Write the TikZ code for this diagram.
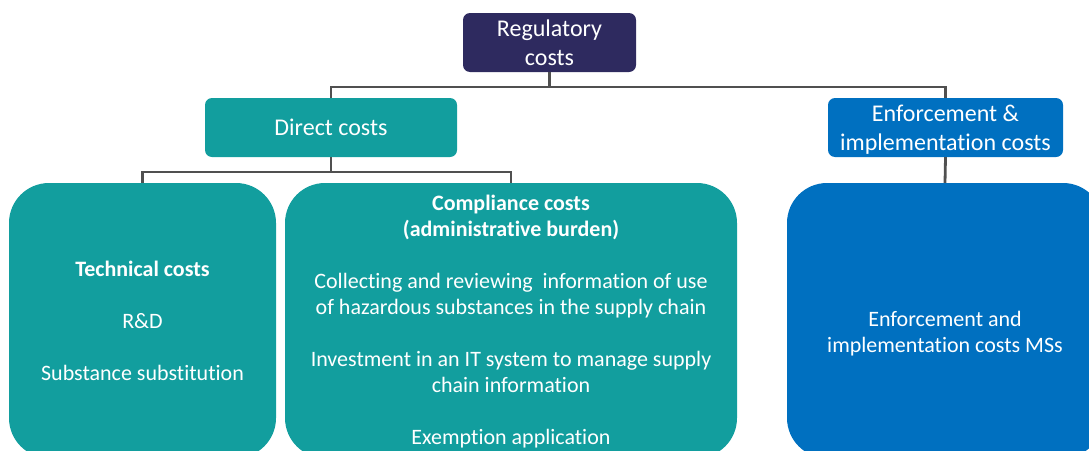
\documentclass[tikz,border=0pt]{standalone}
\usepackage{fontspec}
\setmainfont[Ligatures=NoCommon]{Carlito}
\definecolor{navybox}{HTML}{2E2A5F}
\definecolor{tealbox}{HTML}{129E9E}
\definecolor{bluebox}{HTML}{0070C0}
\definecolor{linegray}{HTML}{505050}
\begin{document}
\begin{tikzpicture}[x=1pt,y=-1pt,
  hdr/.style={rounded corners=7pt, inner sep=0pt, text=white, align=center, font=\fontsize{24}{29}\selectfont},
  big/.style={rounded corners=40pt, inner sep=0pt},
  body/.style={text=white, align=center, font=\fontsize{22}{26}\selectfont},
  conn/.style={draw=linegray, line width=2.8pt}]
\useasboundingbox (0,0) rectangle (1089,450);
\clip (0,0) rectangle (1089,450);
% header boxes
\node[hdr, fill=navybox, minimum width=173pt, minimum height=59pt] (reg) at (549.5,42.5) {Regulatory\\costs};
\node[hdr, fill=tealbox, minimum width=252pt, minimum height=59pt] (direct) at (331,127.5) {Direct costs};
\node[hdr, fill=bluebox, minimum width=235pt, minimum height=59pt] (enf) at (945.5,127.5) {};
\node[hdr] (enftxt) at ([yshift=-2.5pt]enf.center) {Enforcement \&\\implementation costs};
% big boxes
\node[big, fill=tealbox, minimum width=267pt, minimum height=275pt] (tech) at (142.5,320.5) {};
\node[big, fill=tealbox, minimum width=452pt, minimum height=275pt] (comp) at (511,320.5) {};
\node[big, fill=bluebox, minimum width=316pt, minimum height=275pt] (ms) at (945,320.5) {};
% texts
\node[body] (techtxt) at (tech.center) {\textbf{Technical costs}\\[26pt]R\&D\\[26pt]Substance substitution};
\node[body] (comptxt) at ([yshift=-1pt]comp.center) {\textbf{Compliance costs}\\\textbf{(administrative burden)}\\[26pt]Collecting and reviewing\ \ information of use\\of hazardous substances in the supply chain\\[26pt]Investment in an IT system to manage supply\\chain information\\[26pt]Exemption application};
\node[body] (mstxt) at ([yshift=-13pt]ms.center) {Enforcement and\\implementation costs MSs};
% connectors
\coordinate (bus1) at (549.5,87);
\coordinate (bus2) at (331,172);
\draw[conn] (reg.south) -- (bus1);
\draw[conn] (direct.north) |- (bus1) -| (enf.north);
\draw[conn] (direct.south) -- (bus2);
\draw[conn] (tech.north) |- (bus2) -| (comp.north);
\draw[conn] (enf.south) -- (ms.north);
\end{tikzpicture}
\end{document}
